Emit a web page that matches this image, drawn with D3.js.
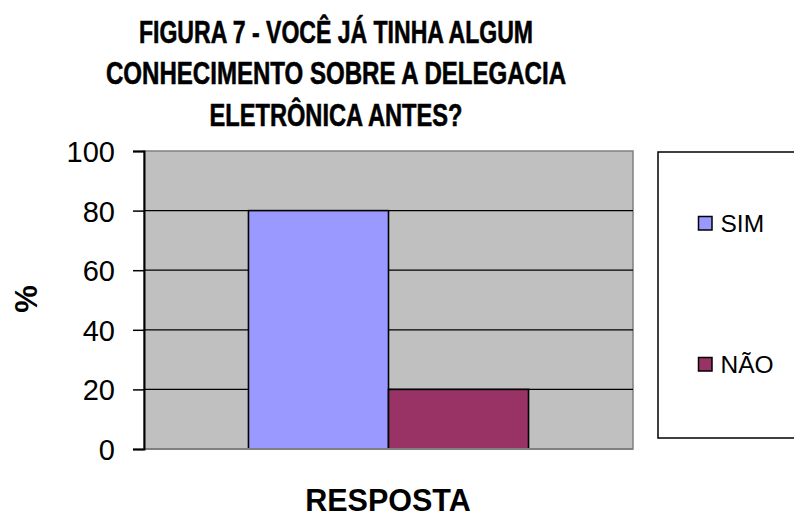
<!DOCTYPE html>
<html>
<head>
<meta charset="utf-8">
<script src="https://cdn.jsdelivr.net/npm/d3@7"></script>
<style>
  html, body { margin: 0; padding: 0; background: #fff; }
  svg { display: block; font-family: "Liberation Sans", Arial, sans-serif; }
</style>
</head>
<body>
<svg id="chart" width="794" height="517"></svg>
<script>
const titleLines = ["FIGURA 7 - VOCÊ JÁ TINHA ALGUM", "CONHECIMENTO SOBRE A DELEGACIA", "ELETRÔNICA ANTES?"];
const categories = ["RESPOSTA"];
const seriesNames = ["SIM", "NÃO"];
const seriesValues = [80, 20];
const seriesColors = ["#9999FF", "#993366"];
const yTicks = [0, 20, 40, 60, 80, 100];
const yLabel = "%";
const xLabel = "RESPOSTA";

const svg = d3.select("#chart");
const plot = { left: 144, right: 633, top: 151, bottom: 449 };

const y = d3.scaleLinear().domain([0, 100]).range([plot.bottom, plot.top]);
const x0 = d3.scaleBand().domain(categories).range([plot.left, plot.right]).paddingInner(0).paddingOuter(0.373);
const x1 = d3.scaleBand().domain(seriesNames).range([0, x0.bandwidth()]).padding(0);

// Plot background
svg.append("rect")
  .attr("x", plot.left).attr("y", plot.top)
  .attr("width", plot.right - plot.left).attr("height", plot.bottom - plot.top)
  .attr("fill", "#C0C0C0").attr("stroke", "#808080").attr("stroke-width", 1.5);

// Gridlines
svg.append("g").selectAll("line")
  .data(yTicks.filter(t => t > 0 && t < 100))
  .join("line")
  .attr("x1", plot.left).attr("x2", plot.right)
  .attr("y1", d => y(d)).attr("y2", d => y(d))
  .attr("stroke", "#000").attr("stroke-width", 1.3);

// Bars
const rows = seriesNames.map((s, i) => ({ cat: categories[0], name: s, value: seriesValues[i], color: seriesColors[i] }));
svg.append("g").selectAll("rect")
  .data(rows)
  .join("rect")
  .attr("x", d => x0(d.cat) + x1(d.name))
  .attr("width", x1.bandwidth())
  .attr("y", d => y(d.value))
  .attr("height", d => y(0) - y(d.value))
  .attr("fill", d => d.color)
  .attr("stroke", "#000").attr("stroke-width", 1.6);

// Bottom axis line (dark gray)
svg.append("line")
  .attr("x1", plot.left).attr("x2", plot.right)
  .attr("y1", y(0)).attr("y2", y(0))
  .attr("stroke", "#808080").attr("stroke-width", 2);

// Y axis
const yAxis = d3.axisLeft(y).tickValues(yTicks).tickSize(11).tickPadding(0).tickFormat(d3.format("d"));
const gy = svg.append("g").attr("transform", `translate(${plot.left},0)`).call(yAxis);
gy.select(".domain").attr("stroke", "#000").attr("stroke-width", 2);
gy.selectAll(".tick line").attr("stroke", "#000").attr("stroke-width", 1.5);
gy.selectAll(".tick text")
  .attr("x", -29)
  .attr("dy", "0.36em")
  .attr("font-size", 29)
  .attr("font-family", "Liberation Sans, Arial, sans-serif")
  .attr("fill", "#000");

// Title
svg.append("g").selectAll("text")
  .data(titleLines)
  .join("text")
  .attr("x", 336)
  .attr("y", (d, i) => [43, 84, 126][i])
  .attr("text-anchor", "middle")
  .attr("font-size", 31.5)
  .attr("font-weight", "bold")
  .attr("stroke", "#000").attr("stroke-width", 0.6)
  .attr("textLength", (d, i) => [394, 460, 253][i])
  .attr("lengthAdjust", "spacingAndGlyphs")
  .text(d => d);

// Y label
svg.append("text")
  .attr("transform", "translate(37,299) rotate(-90)")
  .attr("text-anchor", "middle")
  .attr("font-size", 31)
  .attr("font-weight", "bold")
  .text(yLabel);

// X label
svg.append("text")
  .attr("x", 388).attr("y", 510.5)
  .attr("text-anchor", "middle")
  .attr("font-size", 30.5)
  .attr("font-weight", "bold")
  .text(xLabel);

// Legend
const legend = svg.append("g");
legend.append("rect")
  .attr("x", 658).attr("y", 152)
  .attr("width", 160).attr("height", 286)
  .attr("fill", "#fff").attr("stroke", "#000").attr("stroke-width", 1.5);
const legendY = [232, 373];
const li = legend.selectAll("g.item").data(rows).join("g").attr("class", "item");
li.append("rect")
  .attr("x", 698.5).attr("y", (d, i) => legendY[i] - 15.5)
  .attr("width", 13.5).attr("height", 13.5)
  .attr("fill", d => d.color).attr("stroke", "#000").attr("stroke-width", 1.5);
li.append("text")
  .attr("x", 720.5).attr("y", (d, i) => legendY[i])
  .attr("font-size", 24.5)
  .text(d => d.name);
</script>
</body>
</html>
